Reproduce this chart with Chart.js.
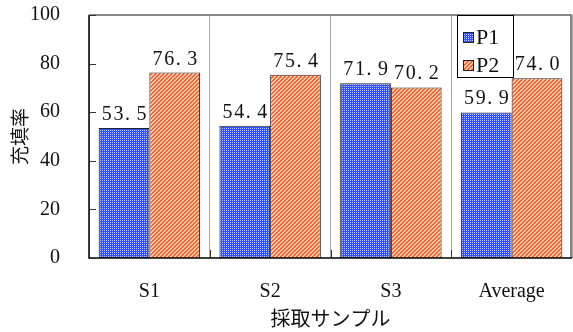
<!DOCTYPE html>
<html>
<head>
<meta charset="utf-8">
<script src="https://cdn.jsdelivr.net/npm/chart.js@4/dist/chart.umd.min.js"></script>
<style>
  html, body { margin: 0; padding: 0; background: #fff; }
  #wrap { position: relative; width: 573px; height: 332px; }
</style>
</head>
<body>
<div id="wrap"><canvas id="chart"></canvas></div>
<script>
// sample groups and the two series
const categories = ['S1', 'S2', 'S3', 'Average'];
const seriesNames = ['P1', 'P2'];
const p1Values = [53.5, 54.4, 71.9, 59.9];
const p2Values = [76.3, 75.4, 70.2, 74.0];
const yTicks = [0, 20, 40, 60, 80, 100];

const latinFont = "'Liberation Serif', 'DejaVu Serif', serif";
const cjkFont = "'Noto Sans CJK JP', 'Noto Sans CJK SC', sans-serif";

// small repeating tiles used as bar fills
function makePattern(dark, light, kind) {
    const tile = document.createElement('canvas');
    tile.width = 4;
    tile.height = 4;
    const c = tile.getContext('2d');
    c.fillStyle = dark;
    c.fillRect(0, 0, 4, 4);
    c.fillStyle = light;
    for (let x = 0; x < 4; x++) {
        for (let y = 0; y < 4; y++) {
            const on = kind === 'dots' ? (x + y) % 2 === 0 && !(x % 2 === 1 && y % 2 === 1) : (x + y) % 4 >= 2;
            if (on) c.fillRect(x, y, 1, 1);
        }
    }
    return document.createElement('canvas').getContext('2d').createPattern(tile, 'repeat');
}

const bluePattern = makePattern('#2f50ff', '#b4c4ff', 'dots');
const redPattern = makePattern('#f4603e', '#ffcfa0', 'diag');
const fills = [bluePattern, redPattern];

// frame, inward tick marks and separator ticks
const framePlugin = {
    id: 'frame',
    afterDraw(chart) {
        const { ctx, chartArea: a, scales } = chart;
        ctx.save();
        ctx.strokeStyle = '#888';
        ctx.lineWidth = 2;
        ctx.beginPath();
        ctx.moveTo(a.left, a.top);
        ctx.lineTo(a.right - 1, a.top);
        ctx.lineTo(a.right - 1, a.bottom);
        ctx.stroke();

        ctx.strokeStyle = '#000';
        ctx.lineWidth = 1.5;
        ctx.beginPath();
        ctx.moveTo(a.left, a.top);
        ctx.lineTo(a.left, a.bottom);
        ctx.lineTo(a.right, a.bottom);
        ctx.stroke();

        ctx.lineWidth = 1;
        ctx.beginPath();
        yTicks.forEach(v => {
            const y = Math.round(scales.y.getPixelForValue(v)) + 0.5;
            ctx.moveTo(a.left, y);
            ctx.lineTo(a.left + 7, y);
        });
        for (let i = 1; i < categories.length; i++) {
            const x = Math.round((scales.x.getPixelForValue(i - 1) + scales.x.getPixelForValue(i)) / 2) + 0.5;
            ctx.moveTo(x, a.bottom);
            ctx.lineTo(x, a.bottom - 8);
        }
        ctx.strokeStyle = '#333';
        ctx.stroke();
        ctx.restore();
    }
};

// value text over each bar, drawn in even cells like the axis font
const valueLabelPlugin = {
    id: 'valueLabels',
    afterDatasetsDraw(chart) {
        const { ctx } = chart;
        const size = 20;
        const cell = size * 0.58;
        ctx.save();
        ctx.font = `${size}px ${latinFont}`;
        ctx.fillStyle = '#111';
        ctx.textBaseline = 'alphabetic';
        ctx.textAlign = 'left';
        chart.data.datasets.forEach((ds, di) => {
            chart.getDatasetMeta(di).data.forEach((bar, i) => {
                const text = ds.data[i].toFixed(1);
                let x = bar.x - (text.length * cell) / 2 + 1;
                for (const ch of text) {
                    ctx.fillText(ch, x, bar.y - 8);
                    x += cell;
                }
            });
        });
        ctx.restore();
    }
};

// boxed legend in the upper right of the plot
const boxLegendPlugin = {
    id: 'boxLegend',
    afterDraw(chart) {
        const { ctx } = chart;
        const left = 457, top = 15, w = 56, h = 62;
        ctx.save();
        ctx.fillStyle = '#fff';
        ctx.fillRect(left, top, w, h);
        ctx.strokeStyle = '#000';
        ctx.lineWidth = 1;
        ctx.strokeRect(left + 0.5, top + 0.5, w, h);
        ctx.font = `22px ${latinFont}`;
        ctx.textBaseline = 'middle';
        chart.data.datasets.forEach((ds, i) => {
            const cy = top + 22 + i * 28;
            ctx.fillStyle = ds.backgroundColor;
            ctx.fillRect(left + 6, cy - 5, 11, 11);
            ctx.strokeStyle = '#222';
            ctx.strokeRect(left + 6.5, cy - 4.5, 10, 10);
            ctx.fillStyle = '#111';
            ctx.fillText(ds.label, left + 19, cy + 1);
        });
        ctx.restore();
    }
};

const datasets = [p1Values, p2Values].map((vals, i) => ({
    label: seriesNames[i],
    data: vals,
    backgroundColor: fills[i],
    borderColor: '#222',
    borderWidth: 1,
    borderSkipped: 'bottom',
    categoryPercentage: 0.84,
    barPercentage: 1.0
}));

new Chart(document.getElementById('chart'), {
    type: 'bar',
    data: { labels: categories, datasets },
    options: {
        responsive: true,
        maintainAspectRatio: false,
        animation: false,
        layout: { padding: { top: 15, right: 1, left: 0, bottom: 0 } },
        plugins: {
            legend: { display: false },
            tooltip: { enabled: false }
        },
        scales: {
            x: {
                grid: { offset: true, color: '#a8a8a8', lineWidth: 1, drawTicks: false },
                border: { display: false },
                ticks: {
                    color: '#111',
                    padding: 22,
                    font: { family: latinFont, size: 20 }
                },
                title: {
                    display: true,
                    text: '採取サンプル',
                    color: '#111',
                    padding: { top: 0, bottom: 2 },
                    font: { family: cjkFont, size: 20 }
                },
                afterFit(scale) {
                    scale.height = 74;
                    scale.paddingLeft = 0;
                    scale.paddingRight = 0;
                }
            },
            y: {
                min: 0,
                max: 100,
                afterBuildTicks(scale) { scale.ticks = yTicks.map(v => ({ value: v })); },
                grid: { display: false, drawTicks: false },
                border: { display: false },
                ticks: {
                    color: '#111',
                    padding: 29,
                    font: { family: latinFont, size: 20 }
                },
                title: {
                    display: true,
                    text: '充填率',
                    color: '#111',
                    padding: { top: 8, bottom: 0 },
                    font: { family: cjkFont, size: 19 }
                },
                afterFit(scale) {
                    scale.width = 89;
                    scale.paddingTop = 0;
                    scale.paddingBottom = 0;
                }
            }
        }
    },
    plugins: [framePlugin, valueLabelPlugin, boxLegendPlugin]
});
</script>
</body>
</html>
